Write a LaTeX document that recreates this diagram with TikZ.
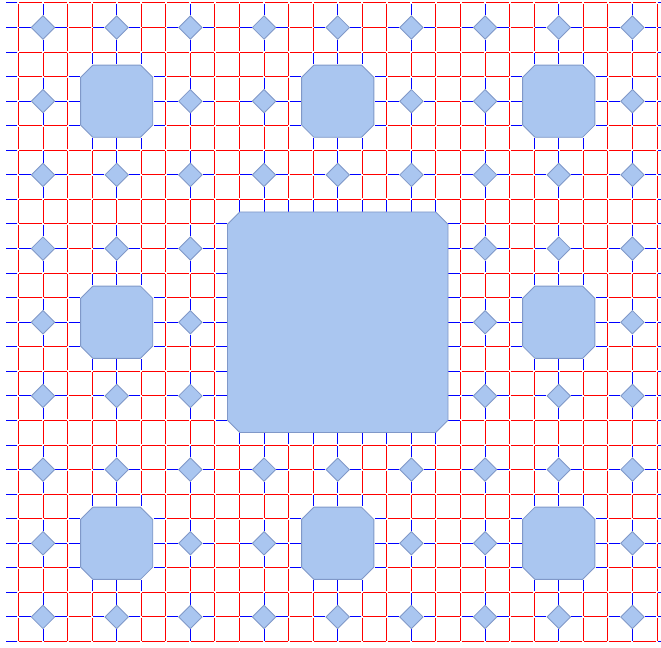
\documentclass[tikz,border=0pt]{standalone}
\usepackage{xcolor}
\usepackage{tikz}

\definecolor{holefill}{RGB}{170,198,240}
\definecolor{holeline}{RGB}{128,152,200}
\definecolor{linkred}{RGB}{255,0,0}
\definecolor{gapblue}{RGB}{0,0,255}

% gap test: \gapflag=1 if cell (#1,#2) is outside the carpet or removed
\newcommand\carpetgap[2]{%
  \pgfmathtruncatemacro\gapflag{(#1<0) || (#1>26) || (#2<0) || (#2>26) ||
    (mod(#1,3)==1 && mod(#2,3)==1) ||
    (mod(div(#1,3),3)==1 && mod(div(#2,3),3)==1) ||
    (mod(div(#1,9),3)==1 && mod(div(#2,9),3)==1)}%
}

% cut-corner square: centre x, centre y, half size, corner cut
\newcommand\holeshape[4]{%
  \draw[hole] ({#1-#3},{#2-#3+#4}) -- ({#1-#3+#4},{#2-#3}) -- ({#1+#3-#4},{#2-#3})
    -- ({#1+#3},{#2-#3+#4}) -- ({#1+#3},{#2+#3-#4}) -- ({#1+#3-#4},{#2+#3})
    -- ({#1-#3+#4},{#2+#3}) -- ({#1-#3},{#2+#3-#4}) -- cycle;%
}

\begin{document}
\begin{tikzpicture}[
    x=0.6cm, y=-0.6cm, % one unit per cell, rows going down
    edge/.style={line width=0.7pt, line cap=butt},
    hole/.style={fill=holefill, draw=holeline, line width=0.6pt}
]

\useasboundingbox (-0.751,-0.12) rectangle (26.163,26.264);
\clip (-0.751,-0.12) rectangle (26.163,26.264);

% half edges of every cell (red: to a cell, blue: into a gap)
\foreach \i in {0,...,26}{
  \foreach \j in {0,...,26}{
    \carpetgap{\i}{\j}
    \ifnum\gapflag=0
      \foreach \dx/\dy in {1/0,-1/0,0/1,0/-1}{
        \pgfmathtruncatemacro\ni{\i+\dx}
        \pgfmathtruncatemacro\nj{\j+\dy}
        \pgfmathtruncatemacro\inrow{(\nj>-1) && (\nj<27)}
        \ifnum\inrow=1
          \carpetgap{\ni}{\nj}
          \ifnum\gapflag=1 \def\edgecol{gapblue}\else\def\edgecol{linkred}\fi
          \draw[edge, \edgecol] ({\i+0.04*\dx},{\j+0.04*\dy}) -- ++({0.46*\dx},{0.46*\dy});
        \fi
      }
    \fi
  }
}

% Small gaps (Level 1)
\foreach \a in {0,...,8}{
  \foreach \b in {0,...,8}{
    \pgfmathtruncatemacro\skipit{(mod(\a,3)==1 && mod(\b,3)==1) || (div(\a,3)==1 && div(\b,3)==1)}
    \ifnum\skipit=0
      \holeshape{3*\a+1}{3*\b+1}{0.475}{0.475}
    \fi
  }
}

% Middle gaps (Level 2)
\foreach \a/\b in {0/0,1/0,2/0,0/1,2/1,0/2,1/2,2/2}{
  \holeshape{9*\a+4}{9*\b+4}{1.47}{0.5}
}

% Centre gap (Level 3)
\holeshape{13}{13}{4.49}{0.5}

\end{tikzpicture}
\end{document}
